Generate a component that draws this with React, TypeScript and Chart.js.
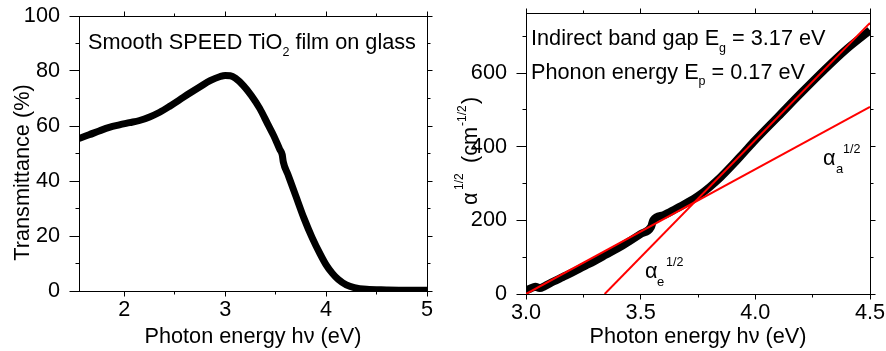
import React, { useEffect, useRef } from 'react';
import { Chart, registerables } from 'chart.js';

Chart.register(...registerables);

const FONT = '"Liberation Sans", Arial, Helvetica, sans-serif';
const BIG = 21.7;

// ---- Left panel: transmittance spectrum ----
const transEnergy = [1.55, 1.65, 1.75, 1.85, 1.95, 2.05, 2.15, 2.25, 2.35, 2.45, 2.55, 2.65, 2.75, 2.85, 2.95, 3.0, 3.05, 3.1, 3.18, 3.26, 3.34, 3.42, 3.48, 3.54, 3.565, 3.575, 3.62, 3.7, 3.78, 3.86, 3.94, 4.0, 4.06, 4.12, 4.2, 4.28, 4.4, 4.6, 4.8, 5.0];
const transPercent = [55.5, 56.8, 58.2, 59.5, 60.4, 61.2, 62.0, 63.3, 65.0, 67.2, 69.6, 72.0, 74.3, 76.5, 78.0, 78.4, 78.3, 77.4, 74.7, 71.0, 66.5, 60.8, 56.5, 51.5, 49.5, 47.0, 42.5, 34.5, 26.5, 19.5, 13.5, 9.5, 6.5, 4.2, 2.2, 1.2, 0.6, 0.4, 0.3, 0.3];

// ---- Right panel: alpha^1/2 vs photon energy ----
const absEnergy = [3.0, 3.02, 3.04, 3.06, 3.08, 3.12, 3.16, 3.2, 3.25, 3.3, 3.35, 3.4, 3.45, 3.5, 3.545, 3.555, 3.6, 3.65, 3.7, 3.75, 3.8, 3.85, 3.9, 3.95, 4.0, 4.1, 4.2, 4.3, 4.4, 4.5];
const sqrtAlpha = [10, 15, 20, 16, 21, 34, 46, 58, 74, 90, 107, 124, 143, 163, 182, 200, 214, 230, 247, 266, 290, 318, 350, 384, 418, 482, 546, 608, 666, 716];
const fitAbsEnergy = [3.0, 4.5];
const fitAbsValues = [0, 508];
const fitEmiEnergy = [3.343, 4.5];
const fitEmiValues = [0, 736];

// ---- Axes ----
const leftXRange = [1.55, 5];
const leftYRange = [0, 100];
const rightXRange = [3.0, 4.5];
const rightYRange = [0, 763];
const leftXTicks = [2, 2.5, 3, 3.5, 4, 4.5, 5];
const leftXLabels = ['2', '', '3', '', '4', '', '5'];
const leftYTicks = [0, 10, 20, 30, 40, 50, 60, 70, 80, 90, 100];
const leftYLabels = ['0', '', '20', '', '40', '', '60', '', '80', '', '100'];
const rightXTicks = [3, 3.25, 3.5, 3.75, 4, 4.25, 4.5];
const rightXLabels = ['3.0', '', '3.5', '', '4.0', '', '4.5'];
const rightYTicks = [0, 100, 200, 300, 400, 500, 600, 700];
const rightYLabels = ['0', '', '200', '', '400', '', '600', ''];

const xTitle = 'Photon energy h\u03bd (eV)';
const leftYTitle = 'Transmittance (%)';

type AxisSpec = { range: number[]; ticks: number[]; labels: string[] };

function makeAxis(position: string, spec: AxisSpec, size: number, showLabels: boolean, padding: number) {
  const horizontal = position === 'top' || position === 'bottom';
  return {
    type: 'linear',
    position,
    min: spec.range[0],
    max: spec.range[1],
    afterBuildTicks: (scale: any) => {
      scale.ticks = spec.ticks.map((v) => ({ value: v }));
    },
    afterFit: (scale: any) => {
      if (horizontal) scale.height = size;
      else scale.width = size;
      scale.paddingTop = 0;
      scale.paddingBottom = 0;
      scale.paddingLeft = 0;
      scale.paddingRight = 0;
    },
    grid: { display: false },
    border: { display: true, color: '#000', width: 1 },
    ticks: {
      display: showLabels,
      autoSkip: false,
      maxRotation: 0,
      minRotation: 0,
      padding,
      color: '#000',
      font: { family: FONT, size: BIG },
      callback: (_v: any, i: number) => spec.labels[i] ?? '',
    },
  };
}

type TickSpec = { id: string; spec: AxisSpec; major: number; minor: number };

function tickPlugin(list: TickSpec[]) {
  return {
    id: 'tickMarks',
    afterDraw(chart: any) {
      const ctx = chart.ctx;
      ctx.save();
      ctx.strokeStyle = '#000';
      ctx.lineWidth = 1;
      ctx.beginPath();
      for (const t of list) {
        const scale = chart.scales[t.id];
        const pos = scale.options.position;
        t.spec.ticks.forEach((v, i) => {
          const len = t.spec.labels[i] ? t.major : t.minor;
          const p = Math.round(scale.getPixelForValue(v) - 0.5) + 0.5;
          if (pos === 'bottom') {
            const b = Math.round(scale.top - 0.5) + 0.5;
            ctx.moveTo(p, b);
            ctx.lineTo(p, b + len);
          } else if (pos === 'top') {
            const b = Math.round(scale.bottom - 0.5) + 0.5;
            ctx.moveTo(p, b);
            ctx.lineTo(p, b - len);
          } else if (pos === 'left') {
            const b = Math.round(scale.right - 0.5) + 0.5;
            ctx.moveTo(b, p);
            ctx.lineTo(b - len, p);
          } else {
            const b = Math.round(scale.left - 0.5) + 0.5;
            ctx.moveTo(b, p);
            ctx.lineTo(b + len, p);
          }
        });
      }
      ctx.stroke();
      ctx.restore();
    },
  };
}

type Run = [string, number, number];

function drawRuns(ctx: CanvasRenderingContext2D, x: number, y: number, runs: Run[]) {
  ctx.textAlign = 'left';
  ctx.textBaseline = 'alphabetic';
  let cx = x;
  for (const [t, size, dy] of runs) {
    ctx.font = `${size}px ${FONT}`;
    ctx.fillText(t, cx, y + dy);
    cx += ctx.measureText(t).width;
  }
}

function drawAt(ctx: CanvasRenderingContext2D, t: string, x: number, y: number, size: number) {
  ctx.font = `${size}px ${FONT}`;
  ctx.textAlign = 'left';
  ctx.textBaseline = 'alphabetic';
  ctx.fillText(t, x, y);
}

const toPoints = (xs: number[], ys: number[]) => xs.map((x, i) => ({ x, y: ys[i] }));

export default function App() {
  const leftRef = useRef<HTMLCanvasElement>(null);
  const rightRef = useRef<HTMLCanvasElement>(null);

  useEffect(() => {
    const lx: AxisSpec = { range: leftXRange, ticks: leftXTicks, labels: leftXLabels };
    const ly: AxisSpec = { range: leftYRange, ticks: leftYTicks, labels: leftYLabels };
    const rx: AxisSpec = { range: rightXRange, ticks: rightXTicks, labels: rightXLabels };
    const ry: AxisSpec = { range: rightYRange, ticks: rightYTicks, labels: rightYLabels };

    const leftText = {
      id: 'leftText',
      afterDraw(chart: any) {
        const ctx: CanvasRenderingContext2D = chart.ctx;
        const ca = chart.chartArea;
        ctx.save();
        ctx.fillStyle = '#000';
        ctx.font = `${BIG}px ${FONT}`;
        ctx.textAlign = 'center';
        ctx.textBaseline = 'alphabetic';
        ctx.fillText(xTitle, (ca.left + ca.right) / 2, 343);
        ctx.save();
        ctx.translate(29, 172.5);
        ctx.rotate(-Math.PI / 2);
        ctx.fillText(leftYTitle, 0, 0);
        ctx.restore();
        drawRuns(ctx, 88, 49, [
          ['Smooth SPEED TiO', BIG, 0],
          ['2', 12.5, 7],
          [' film on glass', BIG, 0],
        ]);
        ctx.restore();
      },
    };

    const rightText = {
      id: 'rightText',
      afterDraw(chart: any) {
        const ctx: CanvasRenderingContext2D = chart.ctx;
        const ca = chart.chartArea;
        ctx.save();
        ctx.fillStyle = '#000';
        ctx.font = `${BIG}px ${FONT}`;
        ctx.textAlign = 'center';
        ctx.textBaseline = 'alphabetic';
        ctx.fillText(xTitle, (ca.left + ca.right) / 2, 343);
        // y title
        ctx.save();
        ctx.translate(34, 205);
        ctx.rotate(-Math.PI / 2);
        drawAt(ctx, '\u03b1', 0, 0, BIG);
        drawAt(ctx, '1/2', 15, -14, 12);
        drawAt(ctx, '(cm', 42, 0, BIG);
        drawAt(ctx, '-1/2', 79, -11, 12);
        drawAt(ctx, ')', 101, 0, BIG);
        ctx.restore();
        drawRuns(ctx, 88, 45, [
          ['Indirect band gap E', BIG, 0],
          ['g', 12.5, 7],
          [' = 3.17 eV', BIG, 0],
        ]);
        drawRuns(ctx, 88, 79, [
          ['Phonon energy E', BIG, 0],
          ['p', 12.5, 6],
          [' = 0.17 eV', BIG, 0],
        ]);
        // alpha labels
        drawAt(ctx, '\u03b1', 380, 165, BIG);
        drawAt(ctx, 'a', 393, 173, 13);
        drawAt(ctx, '1/2', 400, 153, 12.5);
        drawAt(ctx, '\u03b1', 202, 278, BIG);
        drawAt(ctx, 'e', 214, 286, 13);
        drawAt(ctx, '1/2', 223, 266, 12.5);
        ctx.restore();
      },
    };

    const left = new Chart(leftRef.current as HTMLCanvasElement, {
      type: 'line',
      data: {
        datasets: [
          {
            data: toPoints(transEnergy, transPercent),
            borderColor: '#000',
            borderWidth: 7,
            pointRadius: 0,
            cubicInterpolationMode: 'monotone',
            borderJoinStyle: 'round',
          },
        ],
      },
      options: {
        responsive: false,
        animation: false,
        devicePixelRatio: 1,
        layout: { padding: 0 },
        plugins: { legend: { display: false }, tooltip: { enabled: false } },
        scales: {
          x: makeAxis('bottom', lx, 60, true, -2),
          x2: makeAxis('top', lx, 16, false, 0),
          y: makeAxis('left', ly, 79, true, 11),
          y2: makeAxis('right', ly, 16, false, 0),
        },
      } as any,
      plugins: [
        tickPlugin([
          { id: 'x', spec: lx, major: 5, minor: 3 },
          { id: 'x2', spec: lx, major: 5, minor: 3 },
          { id: 'y', spec: ly, major: 10, minor: 4 },
          { id: 'y2', spec: ly, major: 5, minor: 3 },
        ]),
        leftText,
      ],
    } as any);

    const right = new Chart(rightRef.current as HTMLCanvasElement, {
      type: 'line',
      data: {
        datasets: [
          {
            data: toPoints(fitAbsEnergy, fitAbsValues),
            borderColor: 'rgb(255,0,0)',
            borderWidth: 2,
            pointRadius: 0,
            tension: 0,
          },
          {
            data: toPoints(fitEmiEnergy, fitEmiValues),
            borderColor: 'rgb(255,0,0)',
            borderWidth: 2,
            pointRadius: 0,
            tension: 0,
          },
          {
            data: toPoints(absEnergy, sqrtAlpha),
            borderColor: '#000',
            borderWidth: 8,
            pointRadius: 0,
            cubicInterpolationMode: 'monotone',
            borderJoinStyle: 'round',
          },
        ],
      },
      options: {
        responsive: false,
        animation: false,
        devicePixelRatio: 1,
        layout: { padding: 0 },
        plugins: { legend: { display: false }, tooltip: { enabled: false } },
        scales: {
          x: makeAxis('bottom', rx, 57, true, -2),
          x2: makeAxis('top', rx, 13, false, 0),
          y: makeAxis('left', ry, 83, true, 11),
          y2: makeAxis('right', ry, 16, false, 0),
        },
      } as any,
      plugins: [
        tickPlugin([
          { id: 'x', spec: rx, major: 5, minor: 3 },
          { id: 'x2', spec: rx, major: 5, minor: 3 },
          { id: 'y', spec: ry, major: 10, minor: 4 },
          { id: 'y2', spec: ry, major: 5, minor: 3 },
        ]),
        rightText,
      ],
    } as any);

    return () => {
      left.destroy();
      right.destroy();
    };
  }, []);

  return (
    <div style={{ position: 'absolute', left: 0, top: 0, width: 886, height: 351, background: '#fff' }}>
      <canvas
        ref={leftRef}
        width={443}
        height={351}
        style={{ position: 'absolute', left: 0, top: 0, width: 443, height: 351 }}
      />
      <canvas
        ref={rightRef}
        width={443}
        height={351}
        style={{ position: 'absolute', left: 443, top: 0, width: 443, height: 351 }}
      />
    </div>
  );
}
